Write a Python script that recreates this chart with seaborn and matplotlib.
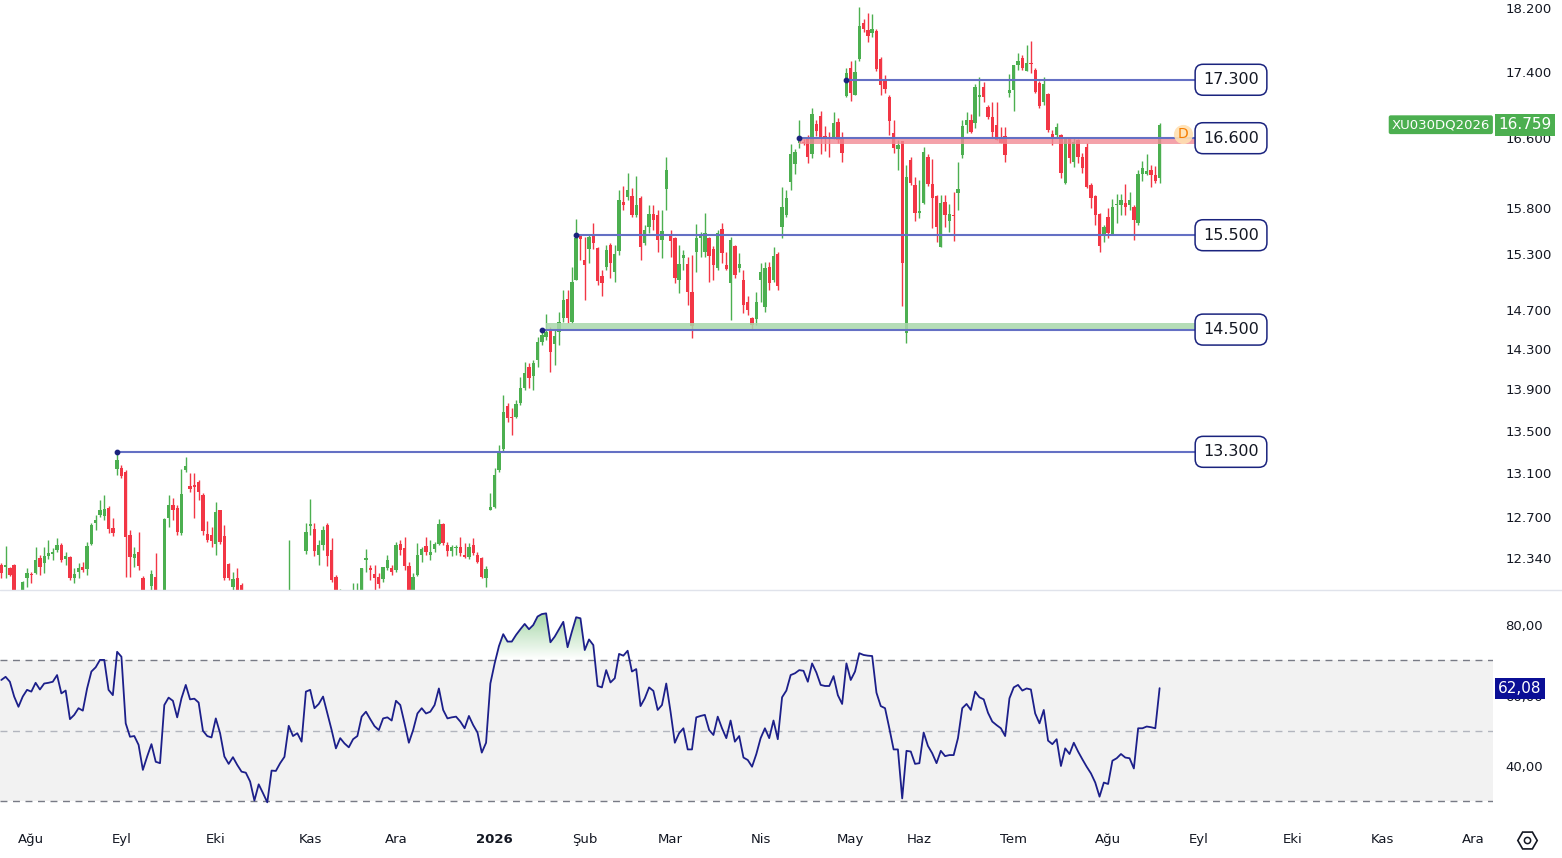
#!/usr/bin/env python3
"""
XU030DQ2026 daily candles with support/resistance levels and an RSI panel
"""

import numpy as np
import pandas as pd
import matplotlib
matplotlib.use("Agg")
import matplotlib.pyplot as plt
import matplotlib.colors as mcolors
import matplotlib.transforms as mtransforms
from matplotlib.lines import Line2D
from matplotlib.path import Path
from matplotlib.ticker import NullLocator
import seaborn as sns

SYMBOL = "XU030DQ2026"

# daily OHLC, one value per trading day (Aug 2025 -> Aug 2026)
opens = [
    12279, 12262, 12253, 12279, 12020, 12040, 12166, 12200, 12209, 12340,
    12296, 12357, 12375, 12410, 12454, 12331, 12348, 12166, 12218, 12262,
    12244, 12463, 12649, 12720, 12711, 12783, 12604, 13140, 13150, 13113,
    12542, 12340, 12393, 12166, 12030, 12097, 12175, 12040, 12030, 12693,
    12810, 12783, 12560, 13131, 12984, 12984, 13020, 12901, 12551, 12542,
    12463, 12765, 12533, 12288, 12088, 12166, 12106, 11990, 11960, 11880,
    11720, 11800, 11740, 11600, 11780, 11770, 11830, 11880, 12050, 12000,
    12020, 12401, 12622, 12595, 12366, 12454, 12631, 12410, 12175, 12040,
    12050, 12040, 12025, 12050, 12050, 12322, 12253, 12200, 12175, 12158,
    12253, 12253, 12235, 12463, 12428, 12270, 12050, 12192, 12366, 12445,
    12366, 12419, 12463, 12640, 12454, 12401, 12425, 12437, 12357, 12348,
    12454, 12366, 12340, 12166, 12765, 12793, 13131, 13327, 13738, 13630,
    13633, 13768, 13915, 14123, 14033, 14193, 14370, 14426, 14497, 14355,
    14477, 14621, 14818, 14579, 15018, 15504, 15232, 15350, 15500, 15362,
    15061, 15157, 15394, 15104, 15330, 15870, 15925, 15937, 15724, 15914,
    15415, 15590, 15736, 15724, 15449, 16015, 15504, 15470, 15018, 15254,
    15189, 14892, 15319, 15470, 15319, 15470, 15350, 15147, 15568, 15178,
    14986, 15383, 15147, 15018, 14786, 14621, 14610, 15018, 14734, 15157,
    15018, 15297, 15592, 15724, 16095, 16302, 16545, 16550, 16592, 16417,
    16768, 16863, 16627, 16610, 16615, 16792, 16592, 17103, 17445, 17115,
    17556, 18008, 17919, 17881, 17906, 17556, 17310, 17091, 16662, 16475,
    16568, 14466, 16347, 16061, 15747, 15859, 16382, 16072, 15937, 15372,
    15870, 15658, 15715, 15970, 16405, 16756, 16816, 16780, 17095, 17212,
    16971, 16852, 16756, 16615, 16627, 17140, 17176, 17482, 17568, 17408,
    17506, 17420, 17264, 17032, 17127, 16650, 16638, 16638, 16084, 16592,
    16325, 16580, 16382, 16498, 16061, 15937, 15735, 15515, 15702, 15515,
    15836, 15836, 15859, 15836, 15813, 15635, 16186, 16186, 16232, 16175,
    16141,
]
highs = [
    12296, 12445, 12262, 12290, 12060, 12140, 12253, 12218, 12437, 12366,
    12437, 12498, 12428, 12516, 12472, 12393, 12357, 12253, 12296, 12305,
    12481, 12649, 12720, 12856, 12901, 12802, 12693, 13300, 13178, 13131,
    12586, 12437, 12568, 12180, 12060, 12235, 12384, 12060, 12693, 12901,
    12874, 12810, 13140, 13250, 13103, 13103, 13039, 12920, 12666, 12613,
    12838, 12765, 12631, 12296, 12218, 12253, 12120, 12020, 11980, 11900,
    11840, 11830, 11760, 11810, 11820, 11860, 11910, 12498, 12060, 12055,
    12050, 12648, 12865, 12648, 12498, 12622, 12648, 12516, 12190, 12075,
    12060, 12055, 12123, 12123, 12253, 12419, 12279, 12279, 12209, 12262,
    12366, 12279, 12481, 12498, 12524, 12305, 12209, 12472, 12437, 12524,
    12498, 12481, 12684, 12649, 12481, 12454, 12454, 12524, 12472, 12472,
    12516, 12393, 12348, 12270, 12920, 13150, 13365, 13846, 13768, 13720,
    13797, 14023, 14173, 14163, 14193, 14421, 14500, 14662, 14528, 14497,
    14683, 14913, 14913, 15157, 15680, 15515, 15480, 15504, 15637, 15372,
    15125, 15394, 15415, 15394, 16004, 16050, 16200, 16027, 16163, 15937,
    15613, 15836, 15836, 15780, 15780, 16383, 15558, 15480, 15394, 15340,
    15264, 15280, 15625, 15537, 15747, 15480, 15383, 15558, 15635, 15319,
    15480, 15394, 15308, 15125, 14850, 14631, 14892, 15200, 15210, 15210,
    15372, 15319, 16038, 16004, 16533, 16475, 16816, 16590, 16638, 16959,
    16816, 16923, 16745, 16674, 16911, 16840, 16674, 17445, 17532, 17544,
    18212, 18059, 18136, 18123, 17932, 17581, 17359, 17115, 16816, 16580,
    16568, 16290, 16382, 16152, 16118, 16498, 16417, 16359, 15948, 15948,
    15948, 15847, 15982, 16325, 16816, 16911, 16887, 17248, 17332, 17273,
    16995, 17032, 17032, 16733, 16733, 17371, 17482, 17630, 17606, 17730,
    17781, 17445, 17285, 17332, 17140, 16697, 16780, 16650, 16615, 16604,
    16604, 16592, 16429, 16545, 16084, 15948, 15747, 15613, 15802, 15903,
    15959, 15959, 16072, 15982, 15836, 16232, 16336, 16417, 16290, 16278,
    16780,
]
lows = [
    12166, 12166, 12180, 11990, 11950, 12020, 12088, 12123, 12200, 12192,
    12209, 12331, 12322, 12393, 12305, 12279, 12149, 12123, 12166, 12218,
    12192, 12454, 12586, 12702, 12675, 12560, 12533, 13085, 13057, 12175,
    12175, 12262, 12235, 12000, 11990, 12064, 12010, 11990, 12010, 12610,
    12675, 12542, 12542, 13113, 12929, 12693, 12856, 12542, 12481, 12437,
    12366, 12463, 12149, 12149, 12064, 12000, 11960, 11920, 11850, 11690,
    11700, 11710, 11570, 11590, 11740, 11750, 11810, 11870, 11960, 11980,
    11940, 12375, 12542, 12357, 12279, 12410, 12270, 12132, 12010, 12010,
    12000, 11990, 12000, 12020, 12030, 12218, 12149, 12064, 12080, 12132,
    12235, 12192, 12218, 12366, 12235, 12020, 12030, 12180, 12305, 12366,
    12322, 12393, 12454, 12454, 12357, 12357, 12366, 12357, 12340, 12331,
    12366, 12296, 12166, 12088, 12765, 12783, 13113, 13300, 13585, 13460,
    13625, 13748, 13895, 13915, 13895, 14123, 14344, 14395, 14073, 14142,
    14344, 14579, 14569, 14569, 15018, 15232, 14808, 15200, 15350, 14965,
    14850, 15125, 15040, 14997, 15286, 15780, 15892, 15702, 15702, 15232,
    15394, 15525, 15558, 15319, 15254, 15780, 15264, 14986, 14881, 15125,
    14755, 14415, 15104, 15264, 15264, 14997, 15018, 15125, 15200, 15125,
    14600, 15040, 15104, 14673, 14652, 14497, 14548, 14786, 14683, 14913,
    14997, 14913, 15470, 15702, 16004, 16186, 16487, 16520, 16313, 16371,
    16627, 16417, 16452, 16382, 16592, 16545, 16325, 17091, 17043, 17115,
    17532, 17894, 17768, 17831, 17408, 17115, 17140, 16638, 16429, 16232,
    14744, 14364, 16061, 15658, 15690, 15848, 16050, 15579, 15427, 15372,
    15590, 15537, 15438, 15780, 16371, 16662, 16662, 16720, 16863, 17032,
    16828, 16615, 16580, 16545, 16325, 17091, 16923, 17420, 17420, 17408,
    17383, 17140, 16959, 16995, 16674, 16521, 16615, 16141, 16072, 16313,
    16266, 16313, 16198, 16027, 15803, 15613, 15319, 15427, 15470, 15504,
    15635, 15724, 15724, 15780, 15449, 15613, 16107, 16175, 16038, 16084,
    16084,
]
closes = [
    12209, 12275, 12192, 12020, 11980, 12130, 12209, 12190, 12322, 12262,
    12357, 12384, 12380, 12454, 12322, 12357, 12166, 12200, 12253, 12235,
    12445, 12631, 12675, 12765, 12774, 12595, 12560, 13224, 13076, 12524,
    12349, 12375, 12270, 12030, 12055, 12200, 12040, 12030, 12684, 12810,
    12765, 12568, 12910, 13168, 12956, 12975, 12929, 12577, 12498, 12489,
    12747, 12481, 12166, 12166, 12158, 12030, 11990, 11960, 11880, 11720,
    11800, 11740, 11600, 11780, 11770, 11830, 11880, 12050, 12000, 12020,
    11970, 12569, 12640, 12401, 12454, 12586, 12357, 12149, 12040, 12064,
    12040, 12025, 12050, 12060, 12253, 12340, 12235, 12166, 12115, 12262,
    12322, 12218, 12454, 12410, 12270, 12050, 12175, 12366, 12419, 12393,
    12393, 12463, 12640, 12472, 12401, 12437, 12430, 12384, 12348, 12437,
    12384, 12305, 12175, 12244, 12793, 13085, 13290, 13680, 13623, 13620,
    13758, 13915, 14063, 14013, 14163, 14370, 14446, 14477, 14273, 14436,
    14579, 14808, 14621, 14997, 15470, 15460, 15178, 15480, 15415, 15008,
    14986, 15340, 15200, 15297, 15892, 15836, 16004, 15724, 15836, 15372,
    15558, 15736, 15669, 15449, 15547, 16232, 15438, 15040, 15189, 15286,
    14892, 14538, 15470, 15504, 15525, 15275, 15178, 15525, 15308, 15136,
    15449, 15072, 15189, 14755, 14703, 14548, 14786, 15104, 15147, 14986,
    15275, 14955, 15813, 15914, 16417, 16440, 16580, 16545, 16382, 16887,
    16685, 16604, 16604, 16604, 16780, 16580, 16429, 17383, 17140, 17395,
    17968, 17932, 17843, 17932, 17432, 17236, 17188, 16804, 16487, 16521,
    15199, 16152, 16084, 15747, 15769, 16440, 16072, 15914, 15590, 15858,
    15724, 15735, 15710, 16015, 16745, 16816, 16674, 17212, 17103, 17091,
    16852, 16674, 16580, 16545, 16405, 17176, 17482, 17532, 17445, 17506,
    17494, 17152, 16983, 17250, 16697, 16592, 16733, 16198, 16604, 16371,
    16556, 16382, 16255, 16038, 15914, 15724, 15383, 15592, 15525, 15813,
    15847, 15892, 15813, 15892, 15669, 16186, 16255, 16220, 16175, 16107,
    16759,
]

# RSI(14), one value per bar
rsi = [
    64.4, 65.3, 63.9, 59.7, 56.8, 59.7, 61.6, 61.1, 63.6, 61.7,
    63.4, 63.6, 63.9, 65.8, 60.6, 61.4, 53.3, 54.5, 56.4, 55.7,
    62.0, 66.8, 68.0, 70.1, 70.1, 61.6, 60.1, 72.4, 71.0, 52.1,
    48.3, 48.5, 46.0, 38.9, 42.7, 46.2, 41.2, 40.8, 57.3, 59.4,
    58.5, 53.8, 59.2, 63.0, 58.9, 59.1, 58.0, 50.0, 48.5, 48.1,
    53.5, 49.3, 42.7, 40.6, 42.5, 40.3, 38.4, 38.1, 35.6, 30.2,
    34.8, 32.3, 29.7, 38.7, 38.6, 40.8, 42.6, 51.4, 48.5, 49.3,
    46.9, 61.1, 61.6, 56.4, 57.6, 59.7, 54.9, 50.2, 45.0, 47.9,
    46.4, 45.3, 47.6, 48.5, 54.0, 55.4, 53.3, 51.3, 50.2, 53.5,
    53.8, 52.9, 58.5, 57.3, 52.1, 46.6, 50.2, 54.9, 56.4, 54.9,
    55.4, 57.3, 62.0, 55.9, 53.5, 53.8, 54.0, 52.6, 50.7, 54.2,
    51.6, 49.5, 43.8, 46.6, 63.4, 69.1, 74.0, 77.4, 75.3, 75.3,
    77.2, 78.8, 80.3, 78.8, 80.0, 82.4, 83.1, 83.3, 75.1, 76.7,
    78.8, 80.9, 73.7, 78.1, 82.2, 81.9, 72.9, 75.9, 74.3, 62.7,
    62.3, 67.2, 63.7, 64.9, 71.8, 71.3, 72.7, 66.8, 67.5, 57.0,
    59.2, 62.3, 61.3, 55.9, 57.3, 63.4, 55.4, 46.6, 49.3, 50.7,
    44.7, 44.7, 53.8, 54.2, 54.5, 50.2, 48.8, 54.0, 50.7, 47.9,
    52.9, 46.9, 48.5, 42.4, 41.7, 39.8, 43.4, 47.9, 50.7, 47.9,
    52.9, 47.6, 59.5, 61.4, 65.8, 66.3, 67.2, 67.0, 63.9, 69.1,
    66.5, 63.0, 62.7, 62.7, 65.5, 60.1, 57.6, 69.1, 64.4, 66.8,
    72.0, 71.5, 71.3, 71.2, 60.8, 57.0, 56.4, 50.7, 44.7, 44.7,
    30.8, 44.3, 44.1, 40.6, 40.8, 49.5, 45.7, 43.6, 40.8, 44.3,
    42.8, 43.1, 43.1, 47.9, 56.4, 57.6, 55.9, 61.1, 59.5, 58.9,
    55.1, 52.6, 51.6, 50.7, 48.5, 59.2, 62.3, 63.0, 61.4, 62.0,
    61.7, 54.9, 52.1, 55.9, 47.2, 46.2, 47.6, 40.0, 45.0, 43.4,
    46.6, 44.1, 41.9, 39.8, 37.9, 35.3, 31.3, 35.3, 34.9, 41.5,
    42.2, 43.4, 42.4, 42.2, 39.3, 50.7, 50.7, 51.2, 51.0, 50.7,
    62.08,
]

# first trading bar of each month on the time axis
month_bars = [7, 28, 50, 72, 92, 115, 136, 156, 177, 198, 214, 236, 258, 279, 301, 322, 343]
month_labels = ["Ağu", "Eyl", "Eki", "Kas", "Ara", "2026", "Şub", "Mar", "Nis",
                "May", "Haz", "Tem", "Ağu", "Eyl", "Eki", "Kas", "Ara"]

# horizontal levels and the bar where each one was anchored
levels = [17300, 16600, 15500, 14500, 13300]
level_start = [197, 186, 134, 126, 27]
red_zone = [16530, 16600]
green_zone = [14500, 14570]
dividend_bar = 275.5
dividend_price = 16650

price_ticks = [18200, 17400, 16600, 15800, 15300, 14700, 14300, 13900, 13500, 13100, 12700, 12340]
rsi_ticks = [80, 60, 40]
rsi_bands = [30, 50, 70]

# colours
GREEN = "#4caf50"
RED = "#f23645"
LEVEL = "#6470c4"
NAVY = "#1a237e"
RSI_LINE = "#1c1f8a"
RSI_TAG = "#0b0f96"
TEXT = "#131722"

# layout (pixels of the 1562x858 canvas)
W, H = 1562, 858
PLOT_R = 1493
PRICE_BOTTOM = 590
RSI_BOTTOM = 822
BAR_X0, BAR_DX = 1.3, 4.29
LINE_END = (1195 - BAR_X0) / BAR_DX
LABEL_X = (1231 - BAR_X0) / BAR_DX


def fmt_price(v):
    return f"{v:,.0f}".replace(",", ".")


def fmt_rsi(v):
    return f"{v:.2f}".replace(".", ",")


def draw_candles(ax, df):
    up = df["close"] >= df["open"]
    colors = np.where(up, GREEN, RED)
    ax.vlines(df["bar"], df["low"], df["high"], colors=colors, linewidth=1.0, zorder=2)
    bottom = df[["open", "close"]].min(axis=1)
    height = (df["close"] - df["open"]).abs().clip(lower=14)
    ax.bar(df["bar"], height, bottom=bottom, width=0.78, color=colors, linewidth=0, zorder=2)


def draw_levels(ax):
    ax.fill_between([186, LINE_END], red_zone[0], red_zone[1], color="#f28b95", alpha=0.8,
                    linewidth=0, zorder=3)
    ax.fill_between([127, LINE_END], green_zone[0], green_zone[1], color="#a8d8ab", alpha=0.85,
                    linewidth=0, zorder=3)
    ax.hlines(levels, level_start, LINE_END, colors=LEVEL, linewidth=1.5, zorder=4)
    ax.scatter(level_start, levels, s=10, color=NAVY, zorder=5)
    for lv in levels:
        ax.text(LABEL_X, lv, fmt_price(lv), ha="center", va="center", fontsize=11.5, color=TEXT,
                zorder=7, bbox=dict(boxstyle="round,pad=0.5,rounding_size=0.5",
                                    fc="white", ec=NAVY, lw=1.1))
    # dividend marker
    ax.scatter([dividend_bar], [dividend_price], s=190, color="#ffe0b2", alpha=0.9, zorder=5,
               linewidths=0)
    ax.text(dividend_bar, dividend_price, "D", color="#f57c00", fontsize=10, ha="center",
            va="center", zorder=6)


def draw_rsi(ax, bars):
    values = np.array(rsi)
    ax.axhspan(rsi_bands[0], rsi_bands[2], color="#f2f2f2", zorder=0, linewidth=0)
    ax.axhline(rsi_bands[2], color="#787b86", linestyle=(0, (5, 4)), linewidth=1, zorder=1)
    ax.axhline(rsi_bands[1], color="#b2b5be", linestyle=(0, (5, 4)), linewidth=1, zorder=1)
    ax.axhline(rsi_bands[0], color="#787b86", linestyle=(0, (5, 4)), linewidth=1, zorder=1)

    # green gradient where RSI is overbought
    poly = ax.fill_between(bars, rsi_bands[2], values, where=values > rsi_bands[2],
                           interpolate=True, facecolor="none", edgecolor="none")
    paths = poly.get_paths()
    if paths:
        clip = Path.make_compound_path(*paths)
        grad = np.zeros((64, 1, 4))
        grad[..., :3] = mcolors.to_rgb(GREEN)
        grad[:, 0, 3] = np.linspace(0.5, 0.0, 64)
        im = ax.imshow(grad, extent=[bars[0], bars[-1], rsi_bands[2], values.max()],
                       origin="upper", aspect="auto", zorder=1)
        im.set_clip_path(clip, ax.transData)

    sns.lineplot(x=bars, y=values, ax=ax, color=RSI_LINE, linewidth=1.3, zorder=3)


def main():
    sns.set_theme(style="white")
    plt.rcParams["font.family"] = ["DejaVu Sans"]

    df = pd.DataFrame({"open": opens, "high": highs, "low": lows, "close": closes})
    df["bar"] = np.arange(len(df))
    bars = df["bar"].to_numpy()

    fig = plt.figure(figsize=(W / 100, H / 100), dpi=100, facecolor="white")
    ax = fig.add_axes([0, 1 - PRICE_BOTTOM / H, PLOT_R / W, PRICE_BOTTOM / H])
    ax_rsi = fig.add_axes([0, 1 - RSI_BOTTOM / H, PLOT_R / W, (RSI_BOTTOM - PRICE_BOTTOM) / H],
                          sharex=ax)

    draw_candles(ax, df)
    draw_levels(ax)
    draw_rsi(ax_rsi, bars)

    xmin = -BAR_X0 / BAR_DX
    xmax = (PLOT_R - BAR_X0) / BAR_DX
    ax.set_xlim(xmin, xmax)

    # price axis (log, like the source chart)
    ax.set_yscale("log")
    ax.set_ylim(18200 * np.exp(-(PRICE_BOTTOM - 8) / 1415), 18200 * np.exp(8 / 1415))
    ax.yaxis.tick_right()
    ax.set_yticks(price_ticks)
    ax.set_yticklabels([fmt_price(v) for v in price_ticks])
    ax.yaxis.set_minor_locator(NullLocator())
    ax.tick_params(axis="y", length=0, pad=9, labelsize=9.5, labelcolor=TEXT)
    ax.tick_params(axis="x", length=0, labelbottom=False)
    ax.set_xlabel("")
    ax.set_ylabel("")

    # RSI axis
    ax_rsi.set_ylim(80 - (RSI_BOTTOM - 625) / 3.525, 80 + (625 - PRICE_BOTTOM) / 3.525)
    ax_rsi.set_xlim(xmin, xmax)
    ax_rsi.yaxis.tick_right()
    ax_rsi.set_yticks(rsi_ticks)
    ax_rsi.set_yticklabels([fmt_rsi(v) for v in rsi_ticks])
    ax_rsi.tick_params(axis="y", length=0, pad=9, labelsize=9.5, labelcolor=TEXT)
    ax_rsi.set_xticks(month_bars)
    ax_rsi.set_xticklabels(month_labels)
    ax_rsi.tick_params(axis="x", length=0, pad=8, labelsize=9.5, labelcolor=TEXT)
    for lab in ax_rsi.get_xticklabels():
        if lab.get_text() == "2026":
            lab.set_fontweight("bold")
    ax_rsi.set_xlabel("")
    ax_rsi.set_ylabel("")

    for a in (ax, ax_rsi):
        for s in a.spines.values():
            s.set_visible(False)
        a.grid(False)
        a.set_facecolor("none")

    # panel separator
    fig.add_artist(Line2D([0, 1], [1 - PRICE_BOTTOM / H] * 2, transform=fig.transFigure,
                          color="#e0e3eb", linewidth=1))

    # last price tags
    price_tr = mtransforms.blended_transform_factory(fig.transFigure, ax.transData)
    last = closes[-1]
    ax.text(1490 / W, last, SYMBOL, transform=price_tr, ha="right", va="center", fontsize=9.5,
            color="white", zorder=8, clip_on=False,
            bbox=dict(boxstyle="round,pad=0.22,rounding_size=0.15", fc=GREEN, ec="none"))
    ax.text(1498 / W, last, fmt_price(last), transform=price_tr, ha="left", va="center",
            fontsize=11, color="white", zorder=8, clip_on=False,
            bbox=dict(boxstyle="square,pad=0.22", fc=GREEN, ec="none"))

    rsi_tr = mtransforms.blended_transform_factory(fig.transFigure, ax_rsi.transData)
    ax_rsi.text(1498 / W, rsi[-1], fmt_rsi(rsi[-1]), transform=rsi_tr, ha="left", va="center",
                fontsize=11, color="white", zorder=8, clip_on=False,
                bbox=dict(boxstyle="square,pad=0.2", fc=RSI_TAG, ec="none"))

    # settings gear at the axis corner
    gx, gy = 1527 / W, 1 - 840 / H
    fig.add_artist(Line2D([gx], [gy], transform=fig.transFigure, marker="H", markersize=14,
                          markerfacecolor="none", markeredgecolor=TEXT, markeredgewidth=1.2))
    fig.add_artist(Line2D([gx], [gy], transform=fig.transFigure, marker="o", markersize=4.5,
                          markerfacecolor="none", markeredgecolor=TEXT, markeredgewidth=1.1))

    fig.savefig("out.png", dpi=100, facecolor="white")
    plt.close(fig)


if __name__ == "__main__":
    main()
